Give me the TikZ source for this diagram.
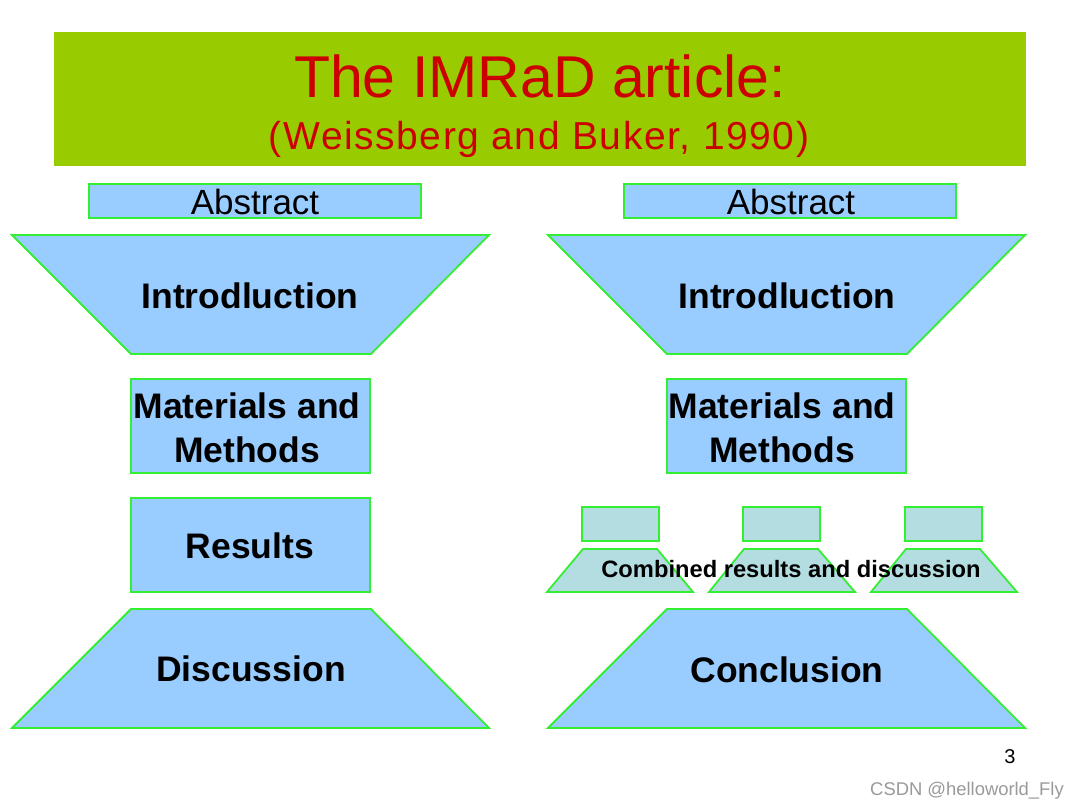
\documentclass[tikz,border=0pt]{standalone}
\usepackage{fontspec}
\setmainfont{Liberation Sans}
\definecolor{banner}{HTML}{99CC00}
\definecolor{titlered}{HTML}{CC0000}
\definecolor{boxblue}{HTML}{99CCFF}
\definecolor{boxteal}{HTML}{B4DDE2}
\definecolor{edgegreen}{HTML}{33EE33}
\definecolor{wmgrey}{HTML}{9A9A9A}
\tikzset{
  shapeline/.style={draw=edgegreen, line width=1.8pt, line join=miter},
  bluebox/.style={shapeline, fill=boxblue},
  tealbox/.style={shapeline, fill=boxteal},
  bigtxt/.style={font=\fontsize{35.5}{44}\selectfont\bfseries, text=black},
  abstxt/.style={font=\fontsize{35}{40}\selectfont, text=black},
}
\begin{document}
\begin{tikzpicture}[x=1pt,y=-1pt]
\useasboundingbox (0,0) rectangle (1080,810);
\fill[white] (0,0) rectangle (1080,810);
% banner
\fill[banner] (54,32) rectangle (1026,166);
\node[text=titlered, font=\fontsize{59}{64}\selectfont] (title) at (540,76) {The IMRaD article:};
\node[text=titlered, font=\fontsize{39}{44}\selectfont\addfontfeatures{LetterSpace=4}] (subtitle) at (539,139) {(Weissberg and Buker, 1990)};

% ---------- left column ----------
\draw[bluebox] (89,184) rectangle (421,218);
\node[abstxt] (absL) at (255,202) {Abstract};

\draw[bluebox] (12,235) -- (489,235) -- (371,354) -- (131,354) -- cycle;
\node[bigtxt] (introL) at (250,296) {Introdluction};

\draw[bluebox] (131,379) rectangle (370,473);
\node[bigtxt, align=center] (matL) at (247,428) {Materials and\\Methods};

\draw[bluebox] (131,498) rectangle (370,592);
\node[bigtxt] (resL) at (250,546) {Results};

\draw[bluebox] (131,609) -- (371,609) -- (489,728) -- (12,728) -- cycle;
\node[bigtxt] (discL) at (251,669) {Discussion};

% ---------- right column ----------
\draw[bluebox] (624,184) rectangle (956,218);
\node[abstxt] (absR) at (791,202) {Abstract};

\draw[bluebox] (548,235) -- (1025,235) -- (907,354) -- (667,354) -- cycle;
\node[bigtxt] (introR) at (787,296) {Introdluction};

\draw[bluebox] (667,379) rectangle (906,473);
\node[bigtxt, align=center] (matR) at (782,428) {Materials and\\Methods};

% small teal boxes
\draw[tealbox] (582,507) rectangle (659,541);
\draw[tealbox] (743,507) rectangle (820,541);
\draw[tealbox] (905,507) rectangle (982,541);
% small teal trapezoids
\draw[tealbox] (583,549) -- (657,549) -- (693,592) -- (547,592) -- cycle;
\draw[tealbox] (744,549) -- (818,549) -- (855,592) -- (709,592) -- cycle;
\draw[tealbox] (906,549) -- (980,549) -- (1017,592) -- (871,592) -- cycle;
\node[font=\fontsize{23.7}{28}\selectfont\bfseries] (comb) at (791,569) {Combined results and discussion};

\draw[bluebox] (667,609) -- (907,609) -- (1025,728) -- (548,728) -- cycle;
\node[bigtxt] (concR) at (787,670) {Conclusion};

% page number and watermark
\node[font=\fontsize{20}{24}\selectfont] (pnum) at (1010,757) {3};
\node[text=wmgrey, font=\fontsize{18.4}{22}\selectfont] (wm) at (967,791) {CSDN @helloworld\_Fly};
\end{tikzpicture}
\end{document}
